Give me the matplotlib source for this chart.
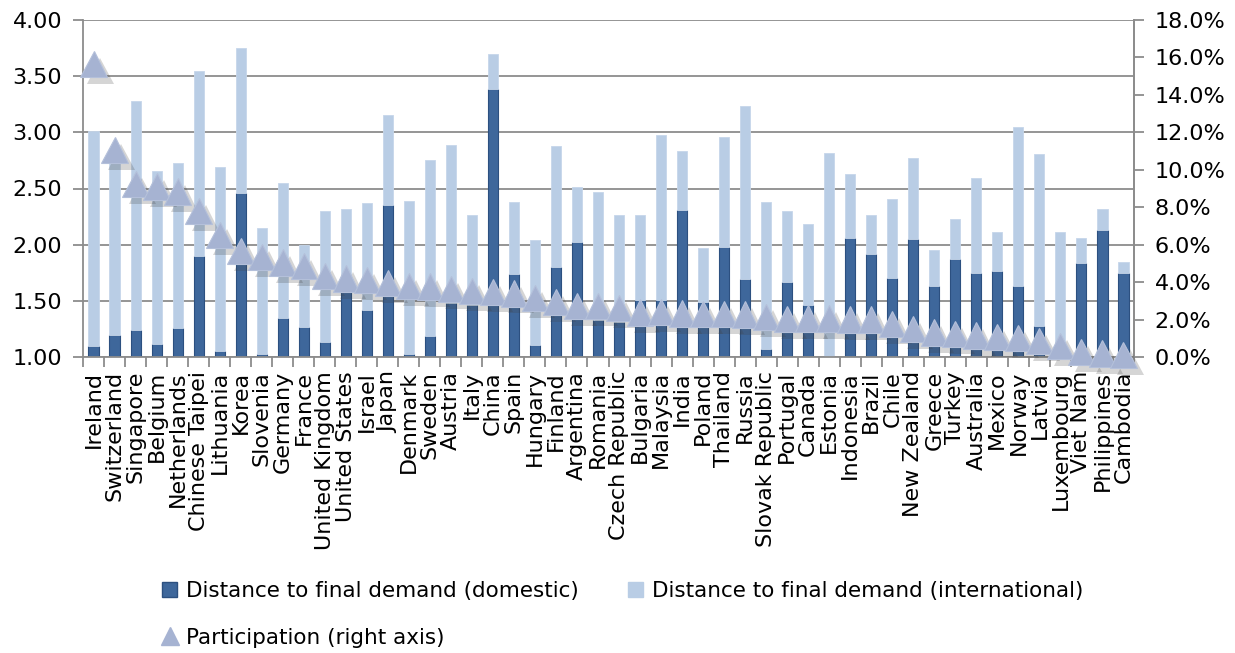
import matplotlib
matplotlib.use("Agg")
import matplotlib.pyplot as plt
import matplotlib.patheffects as pe
from matplotlib.patches import Patch
from matplotlib.lines import Line2D
from matplotlib.ticker import FuncFormatter, FixedLocator
import numpy as np

countries = ["Ireland", "Switzerland", "Singapore", "Belgium", "Netherlands", "Chinese Taipei",
             "Lithuania", "Korea", "Slovenia", "Germany", "France", "United Kingdom",
             "United States", "Israel", "Japan", "Denmark", "Sweden", "Austria", "Italy",
             "China", "Spain", "Hungary", "Finland", "Argentina", "Romania", "Czech Republic",
             "Bulgaria", "Malaysia", "India", "Poland", "Thailand", "Russia", "Slovak Republic",
             "Portugal", "Canada", "Estonia", "Indonesia", "Brazil", "Chile", "New Zealand",
             "Greece", "Turkey", "Australia", "Mexico", "Norway", "Latvia", "Luxembourg",
             "Viet Nam", "Philippines", "Cambodia"]

# Distance to final demand: domestic component (level reached by dark bar)
domestic = [1.10, 1.20, 1.24, 1.12, 1.26, 1.90, 1.05, 2.46, 1.03, 1.35, 1.27, 1.13,
            1.59, 1.42, 2.35, 1.03, 1.19, 1.48, 1.46, 3.39, 1.74, 1.11, 1.80, 2.02,
            1.33, 1.31, 1.51, 1.51, 2.31, 1.49, 1.98, 1.69, 1.07, 1.67, 1.46, 1.01,
            2.06, 1.92, 1.70, 2.05, 1.63, 1.87, 1.75, 1.77, 1.63, 1.28, 1.00, 1.84,
            2.13, 1.75]
# Total distance to final demand (domestic + international)
total = [3.01, 2.80, 3.28, 2.66, 2.73, 3.55, 2.69, 3.75, 2.15, 2.55, 2.00, 2.30,
         2.32, 2.37, 3.15, 2.39, 2.75, 2.89, 2.26, 3.70, 2.38, 2.04, 2.88, 2.51,
         2.47, 2.26, 2.26, 2.98, 2.83, 1.97, 2.96, 3.23, 2.38, 2.30, 2.18, 2.82,
         2.63, 2.26, 2.41, 2.77, 1.95, 2.23, 2.59, 2.11, 3.05, 2.81, 2.11, 2.06,
         2.32, 1.85]
# Participation (%), right axis
participation = [15.65, 11.06, 9.24, 9.10, 8.83, 7.80, 6.52, 5.66, 5.34, 5.04, 4.86, 4.33,
                 4.20, 4.11, 3.95, 3.78, 3.76, 3.63, 3.51, 3.48, 3.40, 3.15, 2.94, 2.72,
                 2.72, 2.62, 2.37, 2.39, 2.33, 2.30, 2.30, 2.26, 2.15, 2.02, 2.05, 2.05,
                 2.00, 2.00, 1.76, 1.50, 1.31, 1.23, 1.15, 1.08, 1.01, 0.86, 0.59, 0.27,
                 0.19, 0.12]

left_ticks = [1.00, 1.50, 2.00, 2.50, 3.00, 3.50, 4.00]
right_ticks = [0, 2, 4, 6, 8, 10, 12, 14, 16, 18]

plt.rcParams["font.family"] = ["DejaVu Sans"]

DARK = "#3e679b"
DARK_EDGE = "#2c5080"
LIGHT = "#b9cde5"
TRI = "#a6b3d2"
GRID = "#8c8c8c"

fig = plt.figure(figsize=(12.35, 6.53), dpi=100)
ax = fig.add_axes([83 / 1235, 1 - 357 / 653, (1134 - 83) / 1235, (357 - 20) / 653])

x = np.arange(len(countries))
dom = np.array(domestic)
tot = np.array(total)
w = 0.48
ax.bar(x, dom - 1.0, bottom=1.0, width=w, color=DARK, edgecolor=DARK_EDGE, linewidth=0.8, zorder=2)
ax.bar(x, tot - dom, bottom=dom, width=w, color=LIGHT, edgecolor="#c6d6ea", linewidth=0.6, zorder=2)

ax.set_xlim(-0.5, len(countries) - 0.5)
ax.set_ylim(1.0, 4.0)
ax.yaxis.set_major_locator(FixedLocator(left_ticks))
ax.yaxis.set_major_formatter(FuncFormatter(lambda v, p: f"{v:.2f}"))
ax.grid(axis="y", color=GRID, linewidth=1.3, zorder=0)
ax.set_axisbelow(True)

ax.set_xticks(x)
ax.set_xticklabels(countries, rotation=90, fontsize=16, va="top", ha="center")
ax.tick_params(axis="x", length=0, pad=10)
ax.xaxis.set_minor_locator(FixedLocator(np.arange(-0.5, len(countries), 1.0)))
ax.tick_params(axis="x", which="minor", length=7, color=GRID, width=1.3)
ax.tick_params(axis="y", labelsize=16, length=7, color=GRID, width=1.3, pad=8)

ax.spines["top"].set_visible(False)
for side in ["left", "bottom", "right"]:
    ax.spines[side].set_color(GRID)
    ax.spines[side].set_linewidth(1.3)

ax2 = ax.twinx()
ax2.set_ylim(0, 18)
ax2.yaxis.set_major_locator(FixedLocator(right_ticks))
ax2.yaxis.set_major_formatter(FuncFormatter(lambda v, p: f"{v:.1f}%"))
ax2.tick_params(axis="y", labelsize=16, length=7, color=GRID, width=1.3, pad=8)
for side in ["top", "left", "bottom"]:
    ax2.spines[side].set_visible(False)
ax2.spines["right"].set_color(GRID)
ax2.spines["right"].set_linewidth(1.3)

ln, = ax2.plot(x, participation, linestyle="none", marker="^", markersize=19,
               markerfacecolor=TRI, markeredgecolor="#b4c0da", markeredgewidth=0.8,
               clip_on=False, zorder=5)
ln.set_path_effects([pe.SimplePatchShadow(offset=(5, -5), shadow_rgbFace="#404040", alpha=0.22),
                     pe.Normal()])

handles = [Patch(facecolor=DARK, edgecolor=DARK_EDGE, label="Distance to final demand (domestic)"),
           Line2D([], [], linestyle="none", marker="^", markersize=13, markerfacecolor=TRI,
                  markeredgecolor=TRI, label="Participation (right axis)"),
           Patch(facecolor=LIGHT, edgecolor=LIGHT, label="Distance to final demand (international)")]
fig.legend(handles=handles, ncol=2, loc="upper left", bbox_to_anchor=(162 / 1235, 1 - 581 / 653),
           frameon=False, fontsize=15.5, handlelength=0.7, handleheight=0.7, handletextpad=0.4,
           columnspacing=2.3, labelspacing=1.25, borderaxespad=0, borderpad=0)

fig.savefig("out.png", dpi=100)
